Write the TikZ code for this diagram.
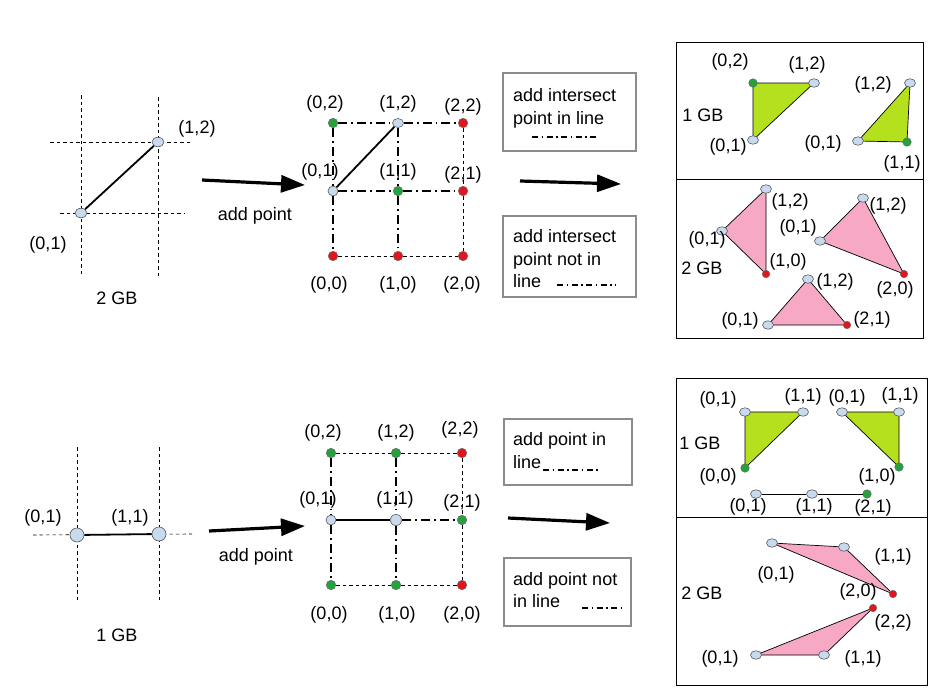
\documentclass[tikz,border=0pt]{standalone}
\usepackage{fontspec}
\setmainfont{Liberation Sans}
\usetikzlibrary{arrows.meta,backgrounds,shapes.geometric}
\definecolor{ptblue}{HTML}{C8DAEE}
\definecolor{ptgreen}{HTML}{22A33C}
\definecolor{ptred}{HTML}{E3141C}
\definecolor{trigreen}{HTML}{B4E01E}
\definecolor{tripink}{HTML}{F7A8C4}
\definecolor{boxgray}{HTML}{8C8C8C}
\begin{document}
\begin{tikzpicture}[x=1pt,y=-1pt,
  lab/.style={font=\fontsize{18}{22}\selectfont, inner sep=0pt},
  bpt/.style={ellipse, draw=black!65, fill=ptblue, line width=0.6pt, inner sep=0pt, minimum width=12pt, minimum height=9.5pt},
  bigb/.style={circle, draw=black!65, fill=ptblue, line width=0.6pt, inner sep=0pt, minimum size=14pt},
  gpt/.style={circle, draw=black!60, fill=ptgreen, line width=0.5pt, inner sep=0pt, minimum size=9.5pt},
  rpt/.style={circle, draw=black!60, fill=ptred, line width=0.5pt, inner sep=0pt, minimum size=9.5pt},
  sbpt/.style={bpt, minimum width=11pt, minimum height=8.5pt},
  sgpt/.style={gpt, minimum size=8.5pt},
  srpt/.style={rpt, minimum size=7.5pt},
  thindash/.style={line width=0.6pt, dash pattern=on 3.5pt off 3pt},
  ddthick/.style={line width=1.7pt, dash pattern=on 9pt off 4pt on 1.8pt off 4pt},
  solidedge/.style={line width=1.8pt},
  bigarrow/.style={line width=3.2pt, -{Triangle[length=24pt,width=17pt]}},
  legbox/.style={draw=boxgray, line width=2pt, inner sep=0pt, rectangle, anchor=north west},
  panel/.style={draw=black, line width=1pt},
  sample/.style={line width=1.2pt, dash pattern=on 6pt off 3.5pt on 1.5pt off 3.5pt},
  tri/.style={draw=black, line width=0.7pt},
  txt/.style={lab, anchor=base west}
]
\useasboundingbox (0,0) rectangle (943,699);

% ================= TOP ROW =================
% top-left
\draw[thindash] (81,95) -- (81,277);
\draw[thindash] (158,97) -- (158,277);
\draw[thindash] (50,142) -- (190,142);
\draw[thindash] (60,213) -- (185,213);
\node[bpt] (tlA) at (81,213) {};
\node[bpt] (tlB) at (158,142) {};
\draw[solidedge] (tlA) -- (tlB);
\node[lab] (tlAl) at (48,245) {(0,1)};
\node[lab] (tlBl) at (197,129) {(1,2)};
\node[lab] (tlgb) at (117,298) {2 GB};

% arrow 1
\coordinate (ar1s) at (202,180);
\coordinate (ar1e) at (305,185);
\draw[bigarrow] (ar1s) -- (ar1e);
\node[lab] (ar1l) at (255,216) {add point};

% top grid
\node[gpt] (g02) at (333,123) {};
\node[bpt, minimum width=11pt, minimum height=9pt] (g12) at (398,123) {};
\node[rpt] (g22) at (463,123) {};
\node[bpt, minimum width=10pt, minimum height=10pt] (g01) at (333,191) {};
\node[gpt] (g11) at (398,191) {};
\node[rpt] (g21) at (463,191) {};
\node[rpt] (g00) at (333,256) {};
\node[rpt] (g10) at (398,256) {};
\node[rpt] (g20) at (463,256) {};
\draw[ddthick] (g02) -- (g12);
\draw[ddthick] (g12) -- (g22);
\draw[ddthick] (g01) -- (g11);
\draw[ddthick] (g11) -- (g21);
\draw[ddthick] (g02) -- (g01);
\draw[ddthick] (g01) -- (g00);
\draw[ddthick] (g12) -- (g11);
\draw[ddthick] (g11) -- (g10);
\draw[thindash] (g22) -- (g21);
\draw[thindash] (g21) -- (g20);
\draw[thindash] (g00) -- (g10);
\draw[thindash] (g10) -- (g20);
\draw[solidedge] (g01) -- (g12);
\node[lab] (g02l) at (325,104) {(0,2)};
\node[lab] (g12l) at (398,104) {(1,2)};
\node[lab] (g22l) at (463,107) {(2,2)};
\node[lab] (g01l) at (320,172) {(0,1)};
\node[lab] (g11l) at (398,172) {(1,1)};
\node[lab] (g21l) at (463,175) {(2,1)};
\node[lab] (g00l) at (329,285) {(0,0)};
\node[lab] (g10l) at (398,285) {(1,0)};
\node[lab] (g20l) at (462,285) {(2,0)};

% top legend
\node[legbox, minimum width=133pt, minimum height=78pt] (lb1) at (502,72) {};
\node[txt] (lb1a) at (513,101.5) {add intersect};
\node[txt] (lb1b) at (513,124.5) {point in line};
\coordinate (lb1s) at (532,137);
\coordinate (lb1e) at (596,137);
\draw[sample] (lb1s) -- (lb1e);

\coordinate (ar2s) at (520,181);
\coordinate (ar2e) at (621,184);
\draw[bigarrow] (ar2s) -- (ar2e);

\node[legbox, minimum width=133pt, minimum height=81pt] (lb2) at (502,215) {};
\node[txt] (lb2a) at (513,242) {add intersect};
\node[txt] (lb2b) at (513,265) {point not in};
\node[txt] (lb2c) at (513,287) {line};
\coordinate (lb2s) at (557,285);
\coordinate (lb2e) at (616,285);
\draw[sample] (lb2s) -- (lb2e);

% top-right panel
\draw[panel] (676,42) rectangle (923,338);
\draw[panel] (676,179) -- (923,179);
\node[lab] (rgb1) at (703,115) {1 GB};
\node[sgpt] (t1a) at (753,83) {};
\node[sbpt] (t1b) at (814,83) {};
\node[sbpt] (t1c) at (753,140) {};
\node[lab] (t1al) at (730,62) {(0,2)};
\node[lab] (t1bl) at (807,65) {(1,2)};
\node[lab] (t1cl) at (728,147) {(0,1)};
\node[sbpt] (t2a) at (910,83) {};
\node[sbpt] (t2b) at (858,141) {};
\node[sgpt] (t2c) at (907,142) {};
\node[lab] (t2al) at (873,85) {(1,2)};
\node[lab] (t2bl) at (823,144) {(0,1)};
\node[lab] (t2cl) at (902,164) {(1,1)};

\node[lab] (rgb2) at (702,268) {2 GB};
\node[sbpt] (t3a) at (766,189) {};
\node[sbpt] (t3b) at (722,231) {};
\node[srpt] (t3c) at (766,274) {};
\node[lab] (t3al) at (790,202) {(1,2)};
\node[lab] (t3bl) at (707,240) {(0,1)};
\node[lab] (t3cl) at (788,262) {(1,0)};
\node[sbpt] (t4a) at (863,198) {};
\node[sbpt] (t4b) at (820,241) {};
\node[srpt] (t4c) at (904,274) {};
\node[lab] (t4al) at (888,206) {(1,2)};
\node[lab] (t4bl) at (798,228) {(0,1)};
\node[lab] (t4cl) at (895,290) {(2,0)};
\node[sbpt] (t5a) at (808,279) {};
\node[sbpt] (t5b) at (768,325) {};
\node[srpt] (t5c) at (847,325) {};
\node[lab] (t5al) at (835,282) {(1,2)};
\node[lab] (t5bl) at (740,321) {(0,1)};
\node[lab] (t5cl) at (872,320) {(2,1)};

% ================= BOTTOM ROW =================
\draw[thindash] (77,447) -- (77,600);
\draw[thindash] (159,447) -- (159,600);
\draw[thindash] (33,535) -- (192,534);
\node[bigb] (blA) at (77,535) {};
\node[bigb] (blB) at (159,534) {};
\draw[solidedge] (blA) -- (blB);
\node[lab] (blAl) at (43,518) {(0,1)};
\node[lab] (blBl) at (130,518) {(1,1)};
\node[lab] (blgb) at (117,635) {1 GB};

\coordinate (ar3s) at (209,531);
\coordinate (ar3e) at (305,526);
\draw[bigarrow] (ar3s) -- (ar3e);
\node[lab] (ar3l) at (256,557) {add point};

% bottom grid
\node[gpt] (h02) at (331,453) {};
\node[gpt] (h12) at (396,453) {};
\node[rpt] (h22) at (462,453) {};
\node[bpt, minimum width=10pt, minimum height=10pt] (h01) at (331,520) {};
\node[bpt, minimum width=12pt, minimum height=11pt] (h11) at (396,520) {};
\node[gpt] (h21) at (462,520) {};
\node[gpt] (h00) at (331,585) {};
\node[gpt] (h10) at (396,585) {};
\node[rpt] (h20) at (462,585) {};
\draw[thindash] (h02) -- (h12);
\draw[thindash] (h12) -- (h22);
\draw[solidedge] (h01) -- (h11);
\draw[ddthick] (h11) -- (h21);
\draw[ddthick] (h02) -- (h01);
\draw[ddthick] (h01) -- (h00);
\draw[ddthick] (h12) -- (h11);
\draw[ddthick] (h11) -- (h10);
\draw[thindash] (h22) -- (h21);
\draw[thindash] (h21) -- (h20);
\draw[thindash] (h00) -- (h10);
\draw[thindash] (h10) -- (h20);
\node[lab] (h02l) at (323,433) {(0,2)};
\node[lab] (h12l) at (396,433) {(1,2)};
\node[lab] (h22l) at (460,430) {(2,2)};
\node[lab] (h01l) at (318,500) {(0,1)};
\node[lab] (h11l) at (395,500) {(1,1)};
\node[lab] (h21l) at (462,503) {(2,1)};
\node[lab] (h00l) at (329,615) {(0,0)};
\node[lab] (h10l) at (397,615) {(1,0)};
\node[lab] (h20l) at (462,615) {(2,0)};

% bottom legend
\node[legbox, minimum width=128pt, minimum height=66pt] (lb3) at (503,418) {};
\node[txt] (lb3a) at (513,445) {add point in};
\node[txt] (lb3b) at (513,468) {line};
\coordinate (lb3s) at (543,470);
\coordinate (lb3e) at (598,470);
\draw[sample] (lb3s) -- (lb3e);

\coordinate (ar4s) at (508,518);
\coordinate (ar4e) at (610,523);
\draw[bigarrow] (ar4s) -- (ar4e);

\node[legbox, minimum width=127pt, minimum height=68pt] (lb4) at (503,557) {};
\node[txt] (lb4a) at (513,585) {add point not};
\node[txt] (lb4b) at (513,607) {in line};
\coordinate (lb4s) at (582,608);
\coordinate (lb4e) at (621,608);
\draw[sample] (lb4s) -- (lb4e);

% bottom-right panel
\draw[panel] (676,378) rectangle (927,685);
\draw[panel] (676,517) -- (927,517);
\node[lab] (rgb3) at (700,443) {1 GB};
\node[sbpt] (u1a) at (745,412) {};
\node[sbpt] (u1b) at (803,412) {};
\node[sgpt] (u1c) at (745,468) {};
\node[lab] (u1al) at (718,400) {(0,1)};
\node[lab] (u1bl) at (803,397) {(1,1)};
\node[lab] (u1cl) at (718,477) {(0,0)};
\node[sbpt] (u2a) at (842,412) {};
\node[sbpt] (u2b) at (899,412) {};
\node[sgpt] (u2c) at (899,467) {};
\node[lab] (u2al) at (847,398) {(0,1)};
\node[lab] (u2bl) at (900,396) {(1,1)};
\node[lab] (u2cl) at (877,477) {(1,0)};
\node[sbpt] (u3a) at (756,494) {};
\node[sbpt] (u3b) at (812,494) {};
\node[sgpt] (u3c) at (867,494) {};
\draw[line width=0.8pt] (u3a) -- (u3b);
\draw[line width=0.8pt] (u3b) -- (u3c);
\node[lab] (u3al) at (748,507) {(0,1)};
\node[lab] (u3bl) at (814,507) {(1,1)};
\node[lab] (u3cl) at (873,508) {(2,1)};

\node[lab] (rgb4) at (702,593) {2 GB};
\node[sbpt] (u4a) at (772,543) {};
\node[sbpt] (u4b) at (844,547) {};
\node[srpt] (u4c) at (893,594) {};
\node[lab] (u4bl) at (893,557) {(1,1)};
\node[lab] (u4al) at (776,575) {(0,1)};
\node[lab] (u4cl) at (858,592) {(2,0)};
\node[srpt] (u5a) at (873,608) {};
\node[sbpt] (u5b) at (756,655) {};
\node[sbpt] (u5c) at (824,655) {};
\node[lab] (u5al) at (893,623) {(2,2)};
\node[lab] (u5bl) at (720,659) {(0,1)};
\node[lab] (u5cl) at (863,659) {(1,1)};

\begin{pgfonlayer}{background}
\filldraw[tri, fill=trigreen] (t1a.center) -- (t1b.center) -- (t1c.center) -- cycle;
\filldraw[tri, fill=trigreen] (t2a.center) -- (t2b.center) -- (t2c.center) -- cycle;
\filldraw[tri, fill=tripink] (t3a.center) -- (t3b.center) -- (t3c.center) -- cycle;
\filldraw[tri, fill=tripink] (t4a.center) -- (t4b.center) -- (t4c.center) -- cycle;
\filldraw[tri, fill=tripink] (t5a.center) -- (t5b.center) -- (t5c.center) -- cycle;
\filldraw[tri, fill=trigreen] (u1a.center) -- (u1b.center) -- (u1c.center) -- cycle;
\filldraw[tri, fill=trigreen] (u2a.center) -- (u2b.center) -- (u2c.center) -- cycle;
\filldraw[tri, fill=tripink] (u4a.center) -- (u4b.center) -- (u4c.center) -- cycle;
\filldraw[tri, fill=tripink] (u5a.center) -- (u5b.center) -- (u5c.center) -- cycle;
\end{pgfonlayer}
\end{tikzpicture}
\end{document}
